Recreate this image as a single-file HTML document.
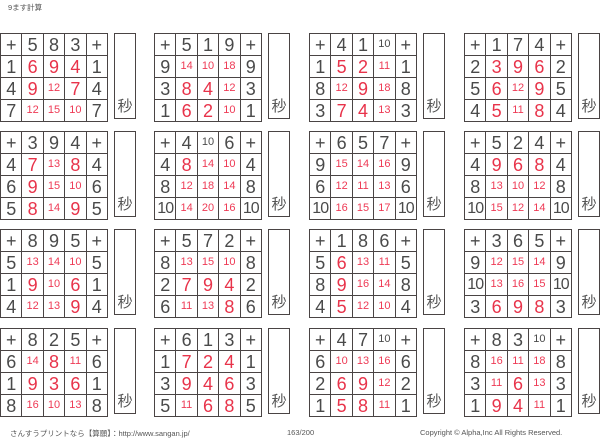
<!DOCTYPE html>
<html><head><meta charset="utf-8"><style>
body{margin:0;width:600px;height:439px;background:#fff;position:relative;overflow:hidden;font-family:"Liberation Sans","Noto Sans CJK JP",sans-serif;}
table{position:absolute;border-collapse:collapse;width:108px;height:86px;table-layout:fixed;}
td{border:1.5px solid #4a4444;padding:0;text-align:center;vertical-align:middle;font-size:18px;color:#4a4a4a;line-height:1;overflow:hidden;height:21px;}
td.w{font-size:16px;letter-spacing:-1px;}
td.r{color:#e8334a;}
td.s{color:#ee3a55;font-size:11px;}
td.h{font-size:11px;}
.box{position:absolute;width:20px;height:84px;border:1.5px solid #4a4444;}
.box span{position:absolute;bottom:2px;left:-1px;width:22px;text-align:center;font-size:15px;color:#555;}
.t{position:absolute;font-size:7.5px;color:#555;white-space:nowrap;}
</style></head><body>
<div class="t" style="left:8px;top:2px;">9ます計算</div>

<table style="left:0px;top:33px"><tr><td>+</td><td>5</td><td>8</td><td>3</td><td>+</td></tr><tr><td>1</td><td class="r">6</td><td class="r">9</td><td class="r">4</td><td>1</td></tr><tr><td>4</td><td class="r">9</td><td class="s">12</td><td class="r">7</td><td>4</td></tr><tr><td>7</td><td class="s">12</td><td class="s">15</td><td class="s">10</td><td>7</td></tr></table>
<div class="box" style="left:114px;top:33px"><span>秒</span></div>

<table style="left:154px;top:33px"><tr><td>+</td><td>5</td><td>1</td><td>9</td><td>+</td></tr><tr><td>9</td><td class="s">14</td><td class="s">10</td><td class="s">18</td><td>9</td></tr><tr><td>3</td><td class="r">8</td><td class="r">4</td><td class="s">12</td><td>3</td></tr><tr><td>1</td><td class="r">6</td><td class="r">2</td><td class="s">10</td><td>1</td></tr></table>
<div class="box" style="left:268px;top:33px"><span>秒</span></div>

<table style="left:309px;top:33px"><tr><td>+</td><td>4</td><td>1</td><td class="h">10</td><td>+</td></tr><tr><td>1</td><td class="r">5</td><td class="r">2</td><td class="s">11</td><td>1</td></tr><tr><td>8</td><td class="s">12</td><td class="r">9</td><td class="s">18</td><td>8</td></tr><tr><td>3</td><td class="r">7</td><td class="r">4</td><td class="s">13</td><td>3</td></tr></table>
<div class="box" style="left:423px;top:33px"><span>秒</span></div>

<table style="left:464px;top:33px"><tr><td>+</td><td>1</td><td>7</td><td>4</td><td>+</td></tr><tr><td>2</td><td class="r">3</td><td class="r">9</td><td class="r">6</td><td>2</td></tr><tr><td>5</td><td class="r">6</td><td class="s">12</td><td class="r">9</td><td>5</td></tr><tr><td>4</td><td class="r">5</td><td class="s">11</td><td class="r">8</td><td>4</td></tr></table>
<div class="box" style="left:578px;top:33px"><span>秒</span></div>

<table style="left:0px;top:131px"><tr><td>+</td><td>3</td><td>9</td><td>4</td><td>+</td></tr><tr><td>4</td><td class="r">7</td><td class="s">13</td><td class="r">8</td><td>4</td></tr><tr><td>6</td><td class="r">9</td><td class="s">15</td><td class="s">10</td><td>6</td></tr><tr><td>5</td><td class="r">8</td><td class="s">14</td><td class="r">9</td><td>5</td></tr></table>
<div class="box" style="left:114px;top:131px"><span>秒</span></div>

<table style="left:154px;top:131px"><tr><td>+</td><td>4</td><td class="h">10</td><td>6</td><td>+</td></tr><tr><td>4</td><td class="r">8</td><td class="s">14</td><td class="s">10</td><td>4</td></tr><tr><td>8</td><td class="s">12</td><td class="s">18</td><td class="s">14</td><td>8</td></tr><tr><td class="w">10</td><td class="s">14</td><td class="s">20</td><td class="s">16</td><td class="w">10</td></tr></table>
<div class="box" style="left:268px;top:131px"><span>秒</span></div>

<table style="left:309px;top:131px"><tr><td>+</td><td>6</td><td>5</td><td>7</td><td>+</td></tr><tr><td>9</td><td class="s">15</td><td class="s">14</td><td class="s">16</td><td>9</td></tr><tr><td>6</td><td class="s">12</td><td class="s">11</td><td class="s">13</td><td>6</td></tr><tr><td class="w">10</td><td class="s">16</td><td class="s">15</td><td class="s">17</td><td class="w">10</td></tr></table>
<div class="box" style="left:423px;top:131px"><span>秒</span></div>

<table style="left:464px;top:131px"><tr><td>+</td><td>5</td><td>2</td><td>4</td><td>+</td></tr><tr><td>4</td><td class="r">9</td><td class="r">6</td><td class="r">8</td><td>4</td></tr><tr><td>8</td><td class="s">13</td><td class="s">10</td><td class="s">12</td><td>8</td></tr><tr><td class="w">10</td><td class="s">15</td><td class="s">12</td><td class="s">14</td><td class="w">10</td></tr></table>
<div class="box" style="left:578px;top:131px"><span>秒</span></div>

<table style="left:0px;top:229px"><tr><td>+</td><td>8</td><td>9</td><td>5</td><td>+</td></tr><tr><td>5</td><td class="s">13</td><td class="s">14</td><td class="s">10</td><td>5</td></tr><tr><td>1</td><td class="r">9</td><td class="s">10</td><td class="r">6</td><td>1</td></tr><tr><td>4</td><td class="s">12</td><td class="s">13</td><td class="r">9</td><td>4</td></tr></table>
<div class="box" style="left:114px;top:229px"><span>秒</span></div>

<table style="left:154px;top:229px"><tr><td>+</td><td>5</td><td>7</td><td>2</td><td>+</td></tr><tr><td>8</td><td class="s">13</td><td class="s">15</td><td class="s">10</td><td>8</td></tr><tr><td>2</td><td class="r">7</td><td class="r">9</td><td class="r">4</td><td>2</td></tr><tr><td>6</td><td class="s">11</td><td class="s">13</td><td class="r">8</td><td>6</td></tr></table>
<div class="box" style="left:268px;top:229px"><span>秒</span></div>

<table style="left:309px;top:229px"><tr><td>+</td><td>1</td><td>8</td><td>6</td><td>+</td></tr><tr><td>5</td><td class="r">6</td><td class="s">13</td><td class="s">11</td><td>5</td></tr><tr><td>8</td><td class="r">9</td><td class="s">16</td><td class="s">14</td><td>8</td></tr><tr><td>4</td><td class="r">5</td><td class="s">12</td><td class="s">10</td><td>4</td></tr></table>
<div class="box" style="left:423px;top:229px"><span>秒</span></div>

<table style="left:464px;top:229px"><tr><td>+</td><td>3</td><td>6</td><td>5</td><td>+</td></tr><tr><td>9</td><td class="s">12</td><td class="s">15</td><td class="s">14</td><td>9</td></tr><tr><td class="w">10</td><td class="s">13</td><td class="s">16</td><td class="s">15</td><td class="w">10</td></tr><tr><td>3</td><td class="r">6</td><td class="r">9</td><td class="r">8</td><td>3</td></tr></table>
<div class="box" style="left:578px;top:229px"><span>秒</span></div>

<table style="left:0px;top:328px"><tr><td>+</td><td>8</td><td>2</td><td>5</td><td>+</td></tr><tr><td>6</td><td class="s">14</td><td class="r">8</td><td class="s">11</td><td>6</td></tr><tr><td>1</td><td class="r">9</td><td class="r">3</td><td class="r">6</td><td>1</td></tr><tr><td>8</td><td class="s">16</td><td class="s">10</td><td class="s">13</td><td>8</td></tr></table>
<div class="box" style="left:114px;top:328px"><span>秒</span></div>

<table style="left:154px;top:328px"><tr><td>+</td><td>6</td><td>1</td><td>3</td><td>+</td></tr><tr><td>1</td><td class="r">7</td><td class="r">2</td><td class="r">4</td><td>1</td></tr><tr><td>3</td><td class="r">9</td><td class="r">4</td><td class="r">6</td><td>3</td></tr><tr><td>5</td><td class="s">11</td><td class="r">6</td><td class="r">8</td><td>5</td></tr></table>
<div class="box" style="left:268px;top:328px"><span>秒</span></div>

<table style="left:309px;top:328px"><tr><td>+</td><td>4</td><td>7</td><td class="h">10</td><td>+</td></tr><tr><td>6</td><td class="s">10</td><td class="s">13</td><td class="s">16</td><td>6</td></tr><tr><td>2</td><td class="r">6</td><td class="r">9</td><td class="s">12</td><td>2</td></tr><tr><td>1</td><td class="r">5</td><td class="r">8</td><td class="s">11</td><td>1</td></tr></table>
<div class="box" style="left:423px;top:328px"><span>秒</span></div>

<table style="left:464px;top:328px"><tr><td>+</td><td>8</td><td>3</td><td class="h">10</td><td>+</td></tr><tr><td>8</td><td class="s">16</td><td class="s">11</td><td class="s">18</td><td>8</td></tr><tr><td>3</td><td class="s">11</td><td class="r">6</td><td class="s">13</td><td>3</td></tr><tr><td>1</td><td class="r">9</td><td class="r">4</td><td class="s">11</td><td>1</td></tr></table>
<div class="box" style="left:578px;top:328px"><span>秒</span></div>

<div class="t" style="left:10px;top:428px;">さんすうプリントなら【算願】：http://www.sangan.jp/</div>
<div class="t" style="left:287px;top:428px;">163/200</div>
<div class="t" style="left:420px;top:428px;">Copyright © Alpha,Inc All Rights Reserved.</div>
</body></html>
